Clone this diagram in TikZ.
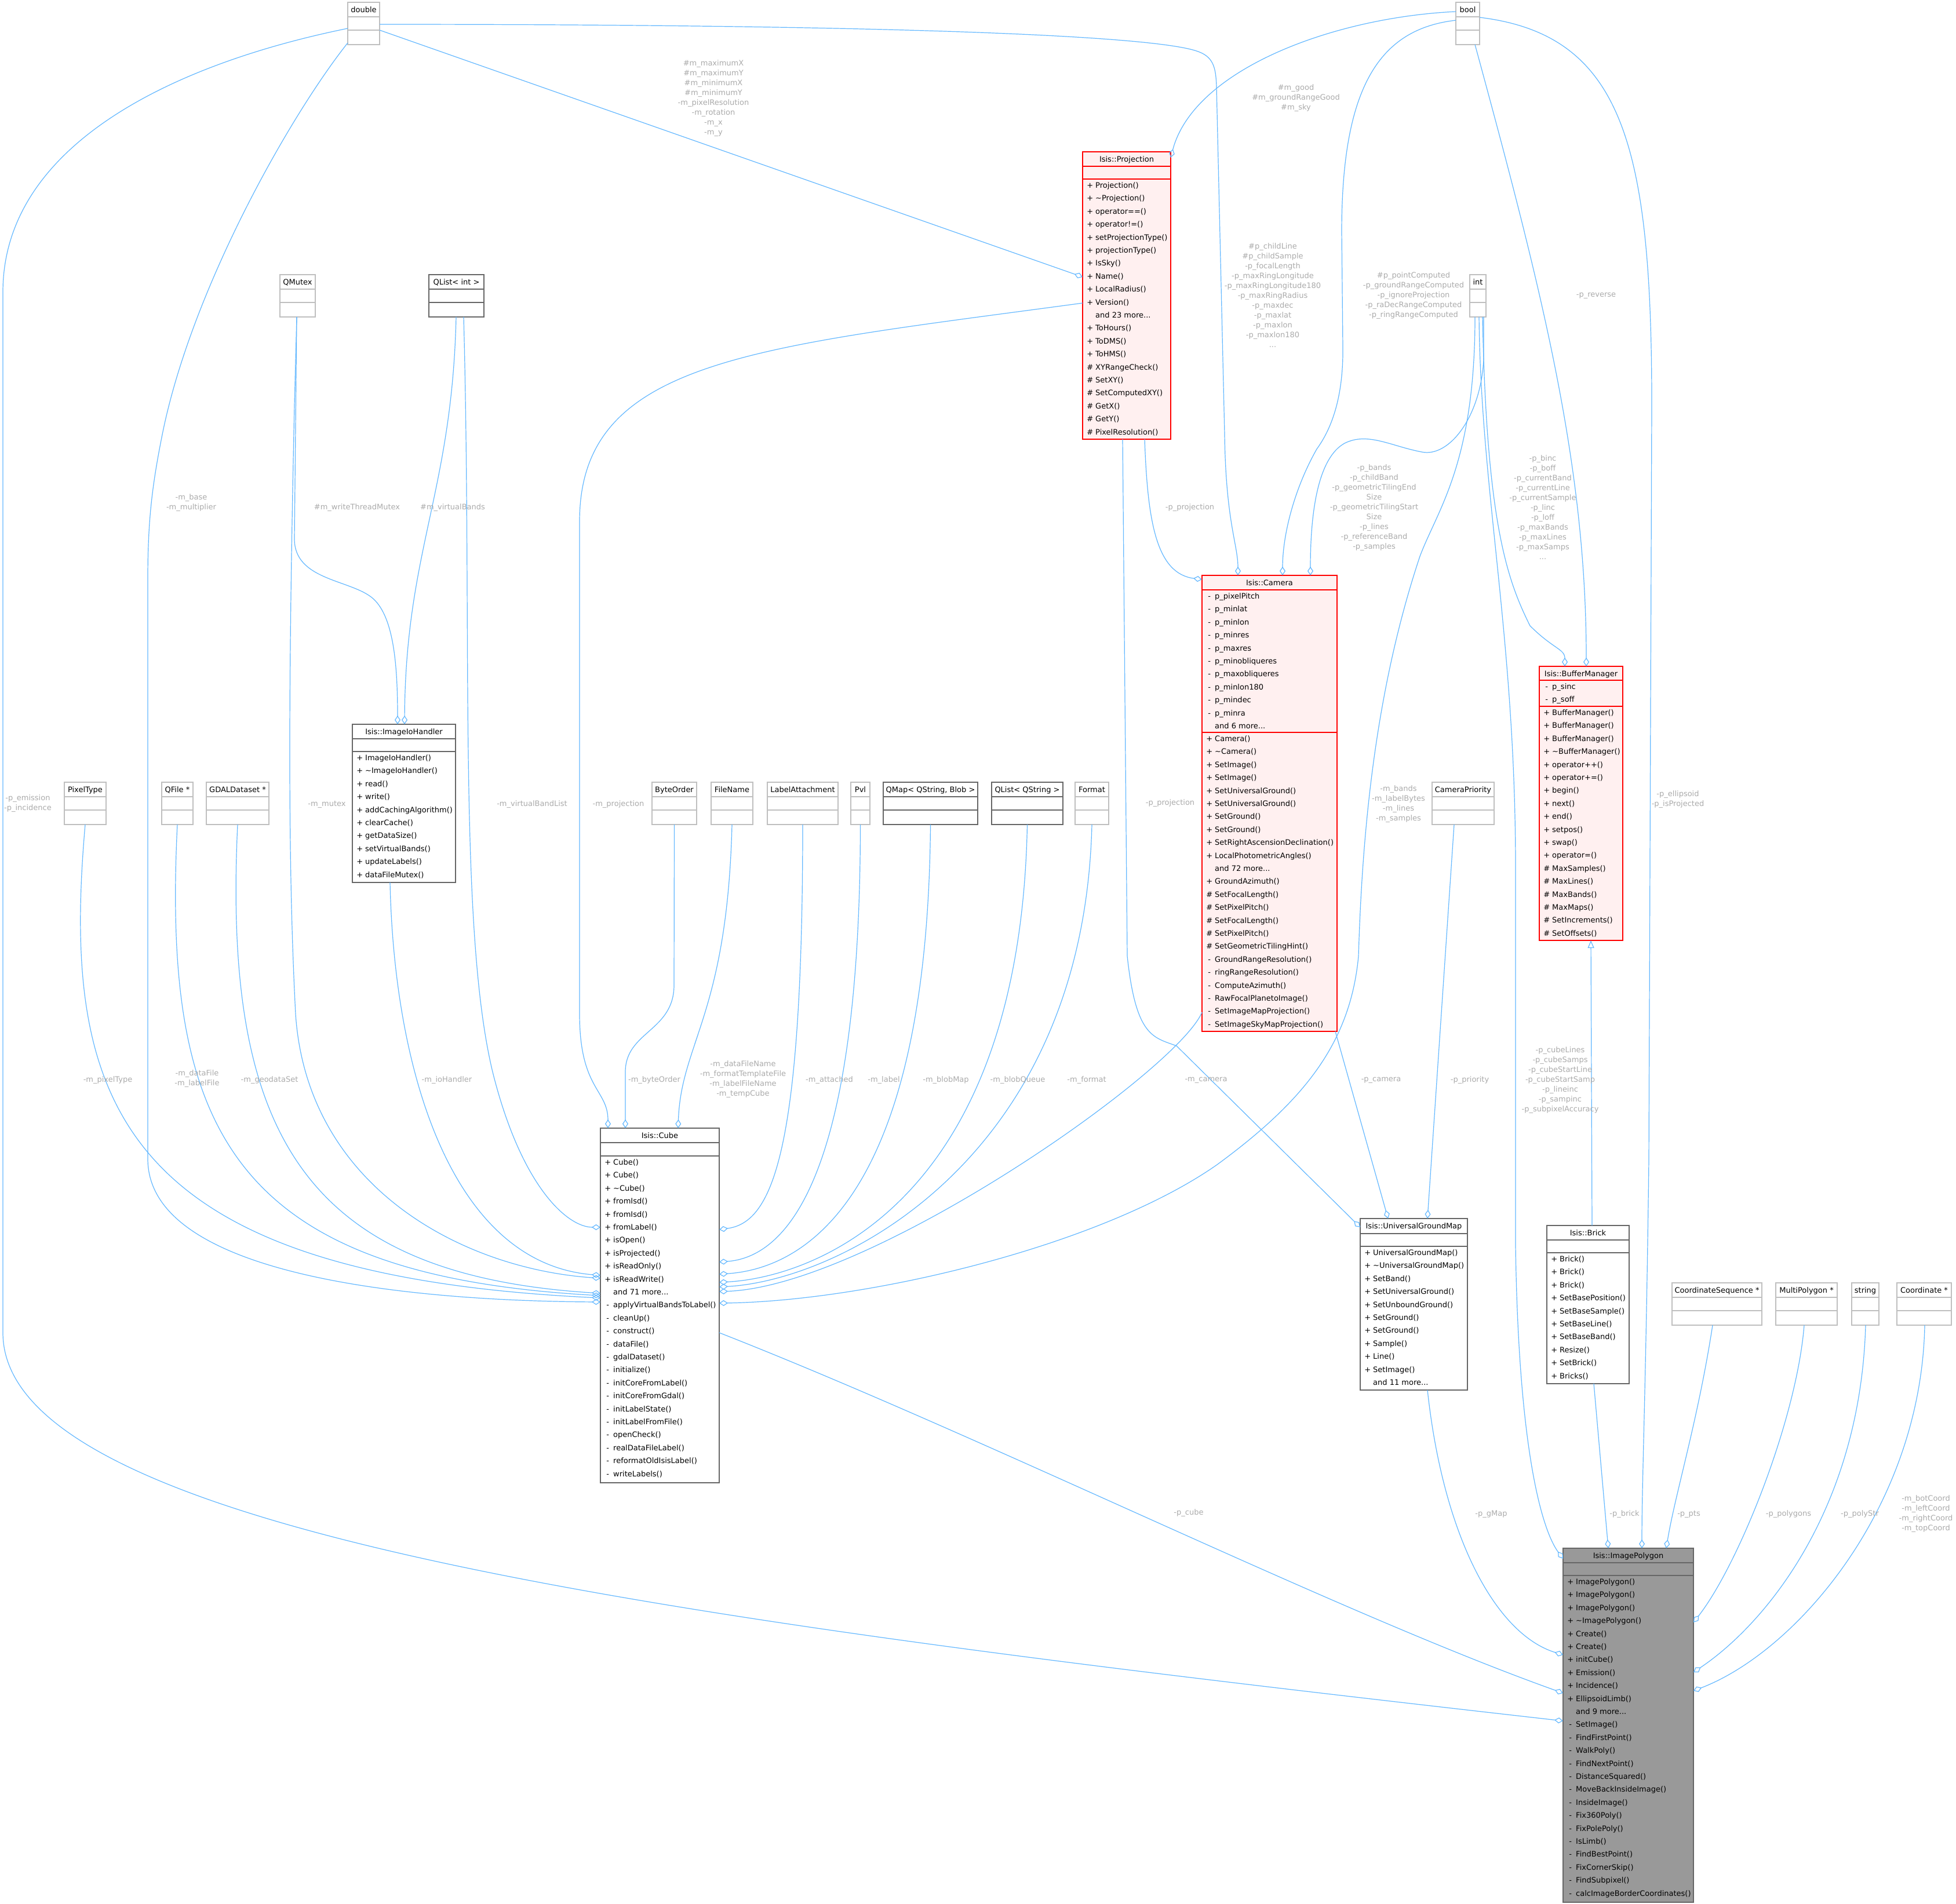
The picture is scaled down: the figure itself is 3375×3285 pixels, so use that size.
\documentclass[tikz,border=0pt]{standalone}
\usepackage{fontspec}
\setmainfont{DejaVu Sans}
\usetikzlibrary{arrows.meta}
\definecolor{eb}{HTML}{63B8FF}
\definecolor{lg}{HTML}{ABABAB}
\definecolor{rfill}{HTML}{FFF0F0}
\definecolor{dk}{HTML}{666666}
\definecolor{lt}{HTML}{BFBFBF}
\definecolor{mainfill}{HTML}{999999}
\newcommand\mydots{...}
\tikzset{
  mem/.style={font=\fontsize{13}{16}\selectfont, inner sep=0pt, text=black},
  lbl/.style={font=\fontsize{13}{17}\selectfont, inner sep=0pt, text=lg, align=center},
  redbox/.style={draw=red, fill=rfill, line width=2pt},
  mainbox/.style={draw=dk, fill=mainfill, line width=1.5pt},
  dkbox/.style={draw=dk, fill=white, line width=1.5pt},
  ltbox/.style={draw=lt, fill=white, line width=1.5pt},
  conn/.style={draw=eb, line width=1.2pt, -{Diamond[open,length=15pt,width=10pt]}},
  inh/.style={draw=eb, line width=1.2pt, -{Triangle[open,length=13pt,width=11pt]}},
}
% id, L, T, R, B, style, title
\newcommand\clsbox[7]{%
  \node[#6, anchor=north west, minimum width={#4-#2}, minimum height={#5-#3}, inner sep=0pt, outer sep=0pt] (#1) at (#2,#3) {};
  \node[mem, anchor=base] (#1-t) at ({(#2+#4)/2},{#3+17.5}) {#7};
}
% y, L, R, colour
\newcommand\hsep[4]{\draw[#4, line width=1.5pt] ({#2},{#1}) -- ({#3},{#1});}
% id, L, T, R, style, colour, title
\newcommand\smallcls[7]{%
  \clsbox{#1}{#2}{#3}{#4}{#3+73}{#5}{#7}
  \hsep{#3+25}{#2}{#4}{#6}
  \hsep{#3+48}{#2}{#4}{#6}
}
% id, L, first row top, list
\newcommand\memrows[4]{%
  \foreach \m/\n [count=\i] in {#4} {%
    \node[mem, anchor=base west] (#1-r\i) at ({#2+7},{#3+15.5+(\i-1)*22.4}) {\makebox[15pt][l]{\makebox[11pt][c]{\m}}\n};
  }%
}
\begin{document}
\begin{tikzpicture}[x=1pt,y=-1pt]
\fill[white] (0,0) rectangle (3375,3285);
\useasboundingbox (0,0) rectangle (3375,3285);

% ---------------- small boxes ----------------
\smallcls{dbl}{600}{4}{655}{ltbox}{lt}{double}
\smallcls{bool}{2512}{4}{2553}{ltbox}{lt}{bool}
\smallcls{int}{2536}{474}{2564}{ltbox}{lt}{int}
\smallcls{qmutex}{483}{474}{544}{ltbox}{lt}{QMutex}
\smallcls{qlint}{740}{474}{835}{dkbox}{dk}{QList< int >}
\smallcls{pix}{111}{1350}{183}{ltbox}{lt}{PixelType}
\smallcls{qfile}{279}{1350}{333}{ltbox}{lt}{QFile *}
\smallcls{gdal}{356}{1350}{464}{ltbox}{lt}{GDALDataset *}
\smallcls{byte}{1125}{1350}{1202}{ltbox}{lt}{ByteOrder}
\smallcls{fname}{1227}{1350}{1299}{ltbox}{lt}{FileName}
\smallcls{latt}{1324}{1350}{1446}{ltbox}{lt}{LabelAttachment}
\smallcls{pvl}{1468}{1350}{1501}{ltbox}{lt}{Pvl}
\smallcls{qmap}{1524}{1350}{1687}{dkbox}{dk}{QMap< QString, Blob >}
\smallcls{qlstr}{1711}{1350}{1834}{dkbox}{dk}{QList< QString >}
\smallcls{fmt}{1855}{1350}{1913}{ltbox}{lt}{Format}
\smallcls{campri}{2471}{1350}{2578}{ltbox}{lt}{CameraPriority}
\smallcls{cseq}{2885}{2214}{3040}{ltbox}{lt}{CoordinateSequence *}
\smallcls{mpoly}{3064}{2214}{3170}{ltbox}{lt}{MultiPolygon *}
\smallcls{str}{3195}{2214}{3242}{ltbox}{lt}{string}
\smallcls{coord}{3273}{2214}{3367}{ltbox}{lt}{Coordinate *}

% ---------------- class boxes ----------------
\clsbox{proj}{1868}{262}{2020}{758}{redbox}{Isis::Projection}
\hsep{287}{1868}{2020}{red}\hsep{309}{1868}{2020}{red}
\memrows{proj}{1868}{309}{+/Projection(),+/\textasciitilde Projection(),+/operator==(),+/operator!=(),+/setProjectionType(),+/projectionType(),+/IsSky(),+/Name(),+/LocalRadius(),+/Version(), /and 23 more\mydots,+/ToHours(),+/ToDMS(),+/ToHMS(),\#/XYRangeCheck(),\#/SetXY(),\#/SetComputedXY(),\#/GetX(),\#/GetY(),\#/PixelResolution()}

\clsbox{cam}{2074}{993}{2307}{1780}{redbox}{Isis::Camera}
\hsep{1018}{2074}{2307}{red}\hsep{1264}{2074}{2307}{red}
\memrows{cama}{2074}{1018}{-/p\_pixelPitch,-/p\_minlat,-/p\_minlon,-/p\_minres,-/p\_maxres,-/p\_minobliqueres,-/p\_maxobliqueres,-/p\_minlon180,-/p\_mindec,-/p\_minra, /and 6 more\mydots}
\memrows{cam}{2074}{1264}{+/Camera(),+/\textasciitilde Camera(),+/SetImage(),+/SetImage(),+/SetUniversalGround(),+/SetUniversalGround(),+/SetGround(),+/SetGround(),+/SetRightAscensionDeclination(),+/LocalPhotometricAngles(), /and 72 more\mydots,+/GroundAzimuth(),\#/SetFocalLength(),\#/SetPixelPitch(),\#/SetFocalLength(),\#/SetPixelPitch(),\#/SetGeometricTilingHint(),-/GroundRangeResolution(),-/ringRangeResolution(),-/ComputeAzimuth(),-/RawFocalPlanetoImage(),-/SetImageMapProjection(),-/SetImageSkyMapProjection()}

\clsbox{buf}{2656}{1150}{2800}{1623}{redbox}{Isis::BufferManager}
\hsep{1174}{2656}{2800}{red}\hsep{1219}{2656}{2800}{red}
\memrows{bufa}{2656}{1174}{-/p\_sinc,-/p\_soff}
\memrows{buf}{2656}{1219}{+/BufferManager(),+/BufferManager(),+/BufferManager(),+/\textasciitilde BufferManager(),+/operator++(),+/operator+=(),+/begin(),+/next(),+/end(),+/setpos(),+/swap(),+/operator=(),\#/MaxSamples(),\#/MaxLines(),\#/MaxBands(),\#/MaxMaps(),\#/SetIncrements(),\#/SetOffsets()}

\clsbox{ipoly}{2697}{2672}{2922}{3283}{mainbox}{Isis::ImagePolygon}
\hsep{2697}{2697}{2922}{dk}\hsep{2719}{2697}{2922}{dk}
\memrows{ipoly}{2697}{2719}{+/ImagePolygon(),+/ImagePolygon(),+/ImagePolygon(),+/\textasciitilde ImagePolygon(),+/Create(),+/Create(),+/initCube(),+/Emission(),+/Incidence(),+/EllipsoidLimb(), /and 9 more\mydots,-/SetImage(),-/FindFirstPoint(),-/WalkPoly(),-/FindNextPoint(),-/DistanceSquared(),-/MoveBackInsideImage(),-/InsideImage(),-/Fix360Poly(),-/FixPolePoly(),-/IsLimb(),-/FindBestPoint(),-/FixCornerSkip(),-/FindSubpixel(),-/calcImageBorderCoordinates()}

\clsbox{cube}{1036}{1947}{1241}{2559}{dkbox}{Isis::Cube}
\hsep{1972}{1036}{1241}{dk}\hsep{1995}{1036}{1241}{dk}
\memrows{cube}{1036}{1995}{+/Cube(),+/Cube(),+/\textasciitilde Cube(),+/fromIsd(),+/fromIsd(),+/fromLabel(),+/isOpen(),+/isProjected(),+/isReadOnly(),+/isReadWrite(), /and 71 more\mydots,-/applyVirtualBandsToLabel(),-/cleanUp(),-/construct(),-/dataFile(),-/gdalDataset(),-/initialize(),-/initCoreFromLabel(),-/initCoreFromGdal(),-/initLabelState(),-/initLabelFromFile(),-/openCheck(),-/realDataFileLabel(),-/reformatOldIsisLabel(),-/writeLabels()}

\clsbox{io}{608}{1250}{786}{1523}{dkbox}{Isis::ImageIoHandler}
\hsep{1275}{608}{786}{dk}\hsep{1297}{608}{786}{dk}
\memrows{io}{608}{1297}{+/ImageIoHandler(),+/\textasciitilde ImageIoHandler(),+/read(),+/write(),+/addCachingAlgorithm(),+/clearCache(),+/getDataSize(),+/setVirtualBands(),+/updateLabels(),+/dataFileMutex()}

\clsbox{ugm}{2347}{2103}{2532}{2399}{dkbox}{Isis::UniversalGroundMap}
\hsep{2129}{2347}{2532}{dk}\hsep{2151}{2347}{2532}{dk}
\memrows{ugm}{2347}{2151}{+/UniversalGroundMap(),+/\textasciitilde UniversalGroundMap(),+/SetBand(),+/SetUniversalGround(),+/SetUnboundGround(),+/SetGround(),+/SetGround(),+/Sample(),+/Line(),+/SetImage(), /and 11 more\mydots}

\clsbox{brick}{2669}{2115}{2811}{2388}{dkbox}{Isis::Brick}
\hsep{2140}{2669}{2811}{dk}\hsep{2162}{2669}{2811}{dk}
\memrows{brick}{2669}{2162}{+/Brick(),+/Brick(),+/Brick(),+/SetBasePosition(),+/SetBaseSample(),+/SetBaseLine(),+/SetBaseBand(),+/Resize(),+/SetBrick(),+/Bricks()}

% ---------------- connectors ----------------
% double
\draw[conn] (dbl.west |- 0,49) .. controls (300,110) and (5,250) .. (5,504) -- (5,2300) .. controls (5,2650) and (1200,2800) .. (ipoly.west |- 0,2970);
\draw[conn] (dbl.west |- 0,74) .. controls (500,200) and (330,500) .. (280,750) .. controls (262,840) and (255,900) .. (255,1000) -- (255,2000) .. controls (255,2200) and (700,2245) .. (cube.west |- 0,2247);
\draw[conn] (dbl.east |- 0,52) -- (proj.west |- 0,478);
\draw[conn] (dbl.east |- 0,42) .. controls (1500,42) and (2000,60) .. (2070,90) .. controls (2095,100) and (2098,120) .. (2099,150) -- (2113,750) .. controls (2115,900) and (2136,940) .. (cam.north -| 2136,0);
% bool
\draw[conn] (bool.west |- 0,20) .. controls (2300,30) and (2060,120) .. (proj.east |- 0,272);
\draw[conn] (bool.west |- 0,35) .. controls (2380,50) and (2315,150) .. (2315,400) -- (2317,600) .. controls (2318,700) and (2290,750) .. (2272,775) .. controls (2235,840) and (2213,920) .. (cam.north -| 2213,0);
\draw[conn] (bool.south -| 2545,0) .. controls (2660,500) and (2737,800) .. (buf.north -| 2737,0);
\draw[conn] (bool.east |- 0,30) .. controls (2800,60) and (2850,250) .. (2850,700) -- (2845,2000) .. controls (2840,2400) and (2833,2550) .. (ipoly.north -| 2833,0);
% int
\draw[conn] (int.south -| 2560,0) -- (2560,620) .. controls (2555,720) and (2500,790) .. (2453,780) .. controls (2400,770) and (2360,745) .. (2320,765) .. controls (2275,790) and (2261,880) .. (cam.north -| 2261,0);
\draw[conn] (int.south -| 2545,0) .. controls (2545,800) and (2480,880) .. (2450,960) .. controls (2370,1200) and (2350,1450) .. (2344,1650) .. controls (2330,1800) and (2250,1900) .. (2100,2010) .. controls (1900,2150) and (1500,2245) .. (cube.east |- 0,2249);
\draw[conn] (int.south -| 2558,0) .. controls (2565,900) and (2600,1000) .. (2640,1080) .. controls (2680,1120) and (2700,1120) .. (buf.north -| 2700,0);
\draw[conn] (int.south -| 2552,0) .. controls (2555,850) and (2615,1100) .. (2615,1500) -- (2615,2150) .. controls (2620,2500) and (2660,2640) .. (ipoly.west |- 0,2690);
% projection
\draw[conn] (proj.west |- 0,523) .. controls (1300,600) and (1000,620) .. (1000,900) -- (1000,1750) .. controls (1000,1880) and (1049,1880) .. (cube.north -| 1049,0);
\draw[conn] (proj.south -| 1975,0) .. controls (1980,900) and (1995,990) .. (cam.west |- 0,1000);
\draw[conn] (proj.south -| 1937,0) -- (1945,1650) .. controls (1960,1790) and (1990,1790) .. (2030,1805) -- (ugm.west |- 0,2118);
% camera
\draw[conn] (cam.west |- 0,1747) .. controls (2030,1850) and (1500,2220) .. (cube.east |- 0,2229);
\draw[conn] (cam.south -| 2304,0) -- (ugm.north -| 2395,0);
\draw[conn] (campri.south -| 2509,0) -- (ugm.north -| 2463,0);
% qmutex, qlist<int>
\draw[conn] (qmutex.south -| 512,0) -- (508,930) .. controls (508,1000) and (600,1000) .. (640,1030) .. controls (680,1060) and (686,1150) .. (io.north -| 686,0);
\draw[conn] (qmutex.south -| 512,0) -- (508,700) .. controls (497,1200) and (497,1500) .. (510,1750) .. controls (530,2050) and (800,2190) .. (cube.west |- 0,2206);
\draw[conn] (qlint.south -| 787,0) .. controls (780,850) and (700,950) .. (io.north -| 698,0);
\draw[conn] (qlint.south -| 800,0) .. controls (815,1100) and (790,1600) .. (850,1850) .. controls (900,2050) and (980,2118) .. (cube.west |- 0,2118);
\draw[conn] (io.south -| 673,0) .. controls (680,1850) and (780,2180) .. (cube.west |- 0,2201);
% row of small boxes into cube
\draw[conn] (pix.south) .. controls (105,1900) and (200,2200) .. (cube.west |- 0,2240);
\draw[conn] (qfile.south) .. controls (280,1950) and (400,2200) .. (cube.west |- 0,2236);
\draw[conn] (gdal.south) .. controls (385,1950) and (520,2200) .. (cube.west |- 0,2232);
\draw[conn] (byte.south) -- (1163,1700) .. controls (1163,1780) and (1079,1780) .. (1079,1850) -- (cube.north -| 1079,0);
\draw[conn] (fname.south) .. controls (1255,1750) and (1175,1800) .. (cube.north -| 1170,0);
\draw[conn] (latt.south) .. controls (1385,2000) and (1330,2110) .. (cube.east |- 0,2122);
\draw[conn] (pvl.south) .. controls (1484,2050) and (1350,2170) .. (cube.east |- 0,2178);
\draw[conn] (qmap.south) .. controls (1600,2080) and (1380,2190) .. (cube.east |- 0,2199);
\draw[conn] (qlstr.south) .. controls (1760,2080) and (1400,2205) .. (cube.east |- 0,2213);
\draw[conn] (fmt.south) .. controls (1870,2000) and (1450,2210) .. (cube.east |- 0,2221);
% into ImagePolygon
\draw[conn] (cube.east |- 0,2300) .. controls (1700,2480) and (2300,2780) .. (ipoly.west |- 0,2922);
\draw[conn] (ugm.south -| 2463,0) .. controls (2490,2650) and (2580,2820) .. (ipoly.west |- 0,2856);
\draw[conn] (brick.south -| 2750,0) -- (ipoly.north -| 2775,0);
\draw[conn] (cseq.south -| 2955,0) .. controls (2930,2450) and (2890,2580) .. (ipoly.north -| 2875,0);
\draw[conn] (mpoly.south -| 3113,0) .. controls (3100,2450) and (3000,2700) .. (ipoly.east |- 0,2800);
\draw[conn] (str.south -| 3219,0) .. controls (3210,2600) and (3050,2800) .. (ipoly.east |- 0,2886);
\draw[conn] (coord.south -| 3321,0) .. controls (3315,2600) and (3100,2850) .. (ipoly.east |- 0,2918);
% inheritance
\draw[inh] (brick.north -| 2747,0) -- (buf.south -| 2745,0);

% ---------------- labels ----------------
\node[lbl] (l1) at (48,1387) {-p\_emission\\-p\_incidence};
\node[lbl] (l2) at (330,868) {-m\_base\\-m\_multiplier};
\node[lbl] (l3) at (186,1864) {-m\_pixelType};
\node[lbl] (l4) at (340,1862) {-m\_dataFile\\-m\_labelFile};
\node[lbl] (l5) at (465,1864) {-m\_geodataSet};
\node[lbl] (l6) at (771,1864) {-m\_ioHandler};
\node[lbl] (l7) at (1129,1864) {-m\_byteOrder};
\node[lbl] (l8) at (1282,1863) {-m\_dataFileName\\-m\_formatTemplateFile\\-m\_labelFileName\\-m\_tempCube};
\node[lbl] (l9) at (1431,1864) {-m\_attached};
\node[lbl] (l10) at (1525,1864) {-m\_label};
\node[lbl] (l11) at (1632,1864) {-m\_blobMap};
\node[lbl] (l12) at (1756,1864) {-m\_blobQueue};
\node[lbl] (l13) at (1875,1864) {-m\_format};
\node[lbl] (l14) at (2081,1864) {-m\_camera};
\node[lbl] (l15) at (2383,1864) {-p\_camera};
\node[lbl] (l16) at (2536,1864) {-p\_priority};
\node[lbl] (l17) at (2692,1864) {-p\_cubeLines\\-p\_cubeSamps\\-p\_cubeStartLine\\-p\_cubeStartSamp\\-p\_lineinc\\-p\_sampinc\\-p\_subpixelAccuracy};
\node[lbl] (l18) at (564,1388) {-m\_mutex};
\node[lbl] (l19) at (918,1388) {-m\_virtualBandList};
\node[lbl] (l20) at (1067,1388) {-m\_projection};
\node[lbl] (l21) at (2019,1386) {-p\_projection};
\node[lbl] (l22) at (2413,1388) {-m\_bands\\-m\_labelBytes\\-m\_lines\\-m\_samples};
\node[lbl] (l23) at (2895,1380) {-p\_ellipsoid\\-p\_isProjected};
\node[lbl] (l24) at (2053,876) {-p\_projection};
\node[lbl] (l25) at (616,876) {\#m\_writeThreadMutex};
\node[lbl] (l26) at (781,876) {\#m\_virtualBands};
\node[lbl] (l27) at (1231,170) {\#m\_maximumX\\\#m\_maximumY\\\#m\_minimumX\\\#m\_minimumY\\-m\_pixelResolution\\-m\_rotation\\-m\_x\\-m\_y};
\node[lbl] (l28) at (2236,169) {\#m\_good\\\#m\_groundRangeGood\\\#m\_sky};
\node[lbl] (l29) at (2196,510) {\#p\_childLine\\\#p\_childSample\\-p\_focalLength\\-p\_maxRingLongitude\\-p\_maxRingLongitude180\\-p\_maxRingRadius\\-p\_maxdec\\-p\_maxlat\\-p\_maxlon\\-p\_maxlon180\\...};
\node[lbl] (l30) at (2439,510) {\#p\_pointComputed\\-p\_groundRangeComputed\\-p\_ignoreProjection\\-p\_raDecRangeComputed\\-p\_ringRangeComputed};
\node[lbl] (l31) at (2371,876) {-p\_bands\\-p\_childBand\\-p\_geometricTilingEnd\\Size\\-p\_geometricTilingStart\\Size\\-p\_lines\\-p\_referenceBand\\-p\_samples};
\node[lbl] (l32) at (2662,876) {-p\_binc\\-p\_boff\\-p\_currentBand\\-p\_currentLine\\-p\_currentSample\\-p\_linc\\-p\_loff\\-p\_maxBands\\-p\_maxLines\\-p\_maxSamps\\...};
\node[lbl] (l33) at (2754,510) {-p\_reverse};
\node[lbl] (l34) at (2051,2611) {-p\_cube};
\node[lbl] (l35) at (2573,2613) {-p\_gMap};
\node[lbl] (l36) at (2803,2613) {-p\_brick};
\node[lbl] (l37) at (2914,2613) {-p\_pts};
\node[lbl] (l38) at (3086,2613) {-p\_polygons};
\node[lbl] (l39) at (3209,2613) {-p\_polyStr};
\node[lbl] (l40) at (3323,2613) {-m\_botCoord\\-m\_leftCoord\\-m\_rightCoord\\-m\_topCoord};
\end{tikzpicture}
\end{document}
